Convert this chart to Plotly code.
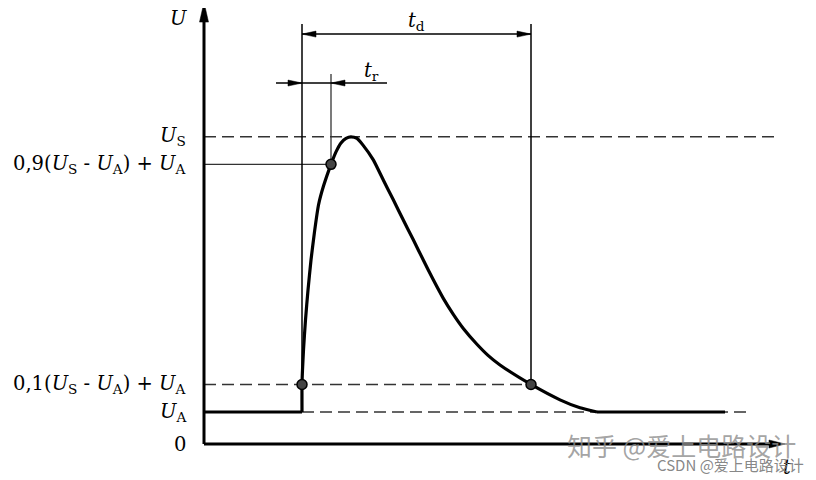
import plotly.graph_objects as go

# ---------------- data (time in arbitrary units, voltage in arbitrary units) ----------------
U_A = 1.0
U_S = 9.6
U_10 = U_A + 0.1 * (U_S - U_A)
U_90 = U_A + 0.9 * (U_S - U_A)

t_start = 9.8      # pulse start / 10 % crossing on rise
t_90 = 12.7        # 90 % crossing on rise
t_fall10 = 32.7    # 10 % crossing on fall
t_settle = 39.3    # curve returns to U_A
t_end = 52.1       # end of drawn signal

t_pulse = [9.8, 9.8, 9.85, 9.95, 10.15, 10.4, 10.7, 11.05, 11.45, 11.95, 12.7, 13.2, 13.7, 14.2,
           14.7, 15.3, 15.9, 16.93, 17.93, 18.93, 19.93, 20.93, 21.93, 22.93, 23.93, 24.93,
           25.93, 27.27, 28.4, 29.6, 32.7, 35.6, 37.6, 39.3]
u_pulse = [1.0, 1.86, 2.31, 2.94, 3.88, 4.81, 5.75, 6.63, 7.47, 8.06, 8.74, 9.13, 9.41, 9.55,
           9.6, 9.55, 9.34, 8.88, 8.25, 7.63, 7.0, 6.38, 5.75, 5.13, 4.55, 4.05,
           3.61, 3.125, 2.77, 2.47, 1.86, 1.38, 1.13, 1.0]

t_axis_end = 58.1
u_axis_end = 13.81
t_US_dash_end = 57.1
t_UA_dash_end = 54.7
u_marker_top = 13.125
u_tr_top = 11.56
u_td_arrow = 12.81
u_tr_arrow = 11.28
t_tr_left = 7.2
t_tr_right = 18.3

tick_vals = [0, U_A, U_10, U_90, U_S]
tick_text = [
    "0",
    "<i>U</i><sub>A</sub>",
    "0,1(<i>U</i><sub>S</sub> - <i>U</i><sub>A</sub>) + <i>U</i><sub>A</sub>",
    "0,9(<i>U</i><sub>S</sub> - <i>U</i><sub>A</sub>) + <i>U</i><sub>A</sub>",
    "<i>U</i><sub>S</sub>",
]

# ---------------- geometry helpers ----------------
W, H = 816, 480
PAGE_OFF = 8                       # browser body margin
X0_PX, Y0_PX = 204 - PAGE_OFF, 444 - PAGE_OFF
XS, YS = 10.0, 32.0               # px per data unit
x_range = [(0 - X0_PX) / XS, (W - X0_PX) / XS]
y_range = [(Y0_PX - H) / YS, Y0_PX / YS]

SERIF = "DejaVu Serif"
FS = 19.5


def head(tx, ty, direction, L=14, Wd=6):
    dl, dw = L, Wd / 2
    if direction == "right":
        xs = [tx, tx - dl / XS, tx - dl / XS, tx]
        ys = [ty, ty + dw / YS, ty - dw / YS, ty]
    elif direction == "left":
        xs = [tx, tx + dl / XS, tx + dl / XS, tx]
        ys = [ty, ty + dw / YS, ty - dw / YS, ty]
    else:  # up
        xs = [tx, tx - dw / XS, tx + dw / XS, tx]
        ys = [ty, ty - dl / YS, ty - dl / YS, ty]
    return go.Scatter(x=xs, y=ys, mode="lines", fill="toself", fillcolor="black",
                      line=dict(color="black", width=0.5), hoverinfo="skip")


def seg(xs, ys, width=1.5, color="black", dash=None):
    return go.Scatter(x=xs, y=ys, mode="lines",
                      line=dict(color=color, width=width, dash=dash), hoverinfo="skip")


fig = go.Figure()
DASH = "12px,6px"
GRAY = "#333333"

# reference levels
fig.add_trace(seg([0, t_US_dash_end], [U_S, U_S], 1.5, GRAY, DASH))
fig.add_trace(seg([0, t_fall10], [U_10, U_10], 1.5, GRAY, DASH))
fig.add_trace(seg([t_start, t_UA_dash_end], [U_A, U_A], 1.5, GRAY, DASH))
fig.add_trace(seg([0, t_90], [U_90, U_90], 1.3, GRAY))

# vertical marker lines
fig.add_trace(seg([t_start, t_start], [U_A, u_marker_top], 1.5))
fig.add_trace(seg([t_fall10, t_fall10], [U_10, u_marker_top], 1.5))
fig.add_trace(seg([t_90, t_90], [U_90, u_tr_top], 1.3, GRAY))

# dimension arrows
fig.add_trace(seg([t_start, t_fall10], [u_td_arrow, u_td_arrow], 1.5))
fig.add_trace(head(t_start, u_td_arrow, "left"))
fig.add_trace(head(t_fall10, u_td_arrow, "right"))
fig.add_trace(seg([t_tr_left, t_tr_right], [u_tr_arrow, u_tr_arrow], 1.5))
fig.add_trace(head(t_start, u_tr_arrow, "right"))
fig.add_trace(head(t_90, u_tr_arrow, "left"))

# signal
fig.add_trace(go.Scatter(x=[0, t_start], y=[U_A, U_A], mode="lines",
                         line=dict(color="black", width=3.2), hoverinfo="skip"))
fig.add_trace(go.Scatter(x=t_pulse, y=u_pulse, mode="lines",
                         line=dict(color="black", width=3.2, shape="spline", smoothing=0.5),
                         hoverinfo="skip"))
fig.add_trace(go.Scatter(x=[t_settle, t_end], y=[U_A, U_A], mode="lines",
                         line=dict(color="black", width=3.2), hoverinfo="skip"))

# measurement points
fig.add_trace(go.Scatter(x=[t_start, t_90, t_fall10], y=[U_10, U_90, U_10], mode="markers",
                         marker=dict(size=10, color="#444444", line=dict(color="black", width=1.5)),
                         hoverinfo="skip", cliponaxis=False))

# axes
fig.add_trace(seg([0, t_axis_end - 1.0], [0, 0], 3))
fig.add_trace(head(t_axis_end, 0, "right", L=16, Wd=8))
fig.add_trace(seg([0, 0], [0, u_axis_end - 0.4], 3))
fig.add_trace(head(0, u_axis_end, "up", L=20, Wd=9))

# tick labels on the U axis
for v, txt in zip(tick_vals, tick_text):
    fig.add_annotation(x=-1.6, y=v, text=txt, showarrow=False, xanchor="right", yanchor="middle",
                       font=dict(family=SERIF, size=FS, color="black"))

# axis / dimension labels
fig.add_annotation(x=-2.6, y=13.3, text="<i>U</i>", showarrow=False,
                   font=dict(family=SERIF, size=FS, color="black"))
fig.add_annotation(x=58.3, y=-0.72, text="<i>t</i>", showarrow=False,
                   font=dict(family=SERIF, size=FS, color="black"))
fig.add_annotation(x=21.25, y=13.2, text="<i>t</i><sub>d</sub>", showarrow=False,
                   font=dict(family=SERIF, size=FS, color="black"))
fig.add_annotation(x=16.7, y=11.63, text="<i>t</i><sub>r</sub>", showarrow=False,
                   font=dict(family=SERIF, size=FS, color="black"))

# watermarks
fig.add_annotation(x=(681 - PAGE_OFF) / W, y=1 - (445 - PAGE_OFF) / H, xref="paper", yref="paper",
                   xanchor="center", yanchor="middle", text="知乎 @爱上电路设计",
                   showarrow=False, font=dict(family="Noto Sans CJK SC", size=25,
                                              color="rgba(140,140,140,0.8)"))
fig.add_annotation(x=(730 - PAGE_OFF) / W, y=1 - (464 - PAGE_OFF) / H, xref="paper", yref="paper",
                   xanchor="center", yanchor="middle", text="CSDN @爱上电路设计",
                   showarrow=False, font=dict(family="Noto Sans CJK SC", size=15,
                                              color="rgba(120,120,120,0.9)"))

fig.update_layout(
    width=W, height=H,
    margin=dict(l=0, r=0, t=0, b=0),
    paper_bgcolor="white", plot_bgcolor="white",
    showlegend=False,
    xaxis=dict(range=x_range, visible=False, fixedrange=True),
    yaxis=dict(range=y_range, visible=False, fixedrange=True),
)

fig.write_html("out.html")
